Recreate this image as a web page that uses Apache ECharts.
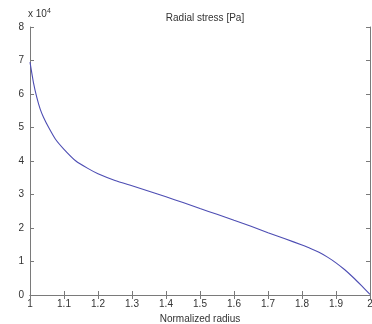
<!DOCTYPE html>
<html>
<head>
<meta charset="utf-8">
<script src="https://cdn.jsdelivr.net/npm/echarts@6/dist/echarts.min.js"></script>
<style>
  html, body { margin: 0; padding: 0; background: #fff; }
  #chart { width: 372px; height: 324px; }
</style>
</head>
<body>
<div id="chart"></div>
<script>
// normalized radius (x) and radial stress in Pa (y)
const radius = [
  1.0, 1.01, 1.02, 1.03, 1.04, 1.055, 1.075, 1.1, 1.135, 1.17, 1.2, 1.25,
  1.3, 1.35, 1.4, 1.45, 1.5, 1.55, 1.6, 1.65, 1.7, 1.75, 1.8, 1.825, 1.85,
  1.875, 1.9, 1.925, 1.95, 1.975, 2.0,
]
const stress = [
  69500, 63500, 59000, 55500, 53000, 50000, 46500, 43500, 40000, 37800, 36200, 34200,
  32600, 31000, 29300, 27600, 25800, 24100, 22300, 20500, 18600, 16800, 14900, 13900, 12750,
  11300, 9600, 7600, 5300, 2800, 200,
]
const titleText = 'Radial stress [Pa]'
const xName = 'Normalized radius'

var myChart = echarts.init(document.getElementById('chart'))

const axisGray = '#7a7a7a'
const textGray = '#333'
const font = 'Liberation Sans, Arial, sans-serif'

const boxAxis = {
  axisLine: { show: true, lineStyle: { color: axisGray, width: 1 } },
  axisTick: { show: true, inside: true, length: 4, lineStyle: { color: axisGray } },
  splitLine: { show: false },
}

const option = {
  backgroundColor: '#fff',
  animation: false,
  title: {
    text: titleText,
    left: 200,
    top: 8,
    textAlign: 'center',
    textStyle: { fontSize: 10, fontWeight: 'normal', color: textGray, fontFamily: font },
  },
  graphic: [
    {
      type: 'text',
      left: 28,
      top: 8,
      style: {
        text: 'x 10{sup|4}',
        fill: textGray,
        font: '10px ' + font,
        rich: { sup: { fontSize: 7, verticalAlign: 'top', padding: [0, 0, 6, 0], fill: textGray } },
      },
    },
  ],
  grid: { left: 30, right: 2, top: 27, bottom: 29, outerBoundsMode: 'none', containLabel: false },
  xAxis: [
    {
      ...boxAxis,
      type: 'value',
      min: 1,
      max: 2,
      interval: 0.1,
      name: xName,
      nameLocation: 'middle',
      nameGap: 16,
      nameTextStyle: { fontSize: 10, color: textGray, fontFamily: font },
      axisLabel: {
        fontSize: 10,
        color: textGray,
        fontFamily: font,
        margin: 4,
        formatter: (v) => String(+v.toFixed(1)),
      },
    },
    {
      ...boxAxis,
      type: 'value',
      position: 'top',
      min: 1,
      max: 2,
      interval: 0.1,
      axisLabel: { show: false },
    },
  ],
  yAxis: [
    {
      ...boxAxis,
      type: 'value',
      min: 0,
      max: 80000,
      interval: 10000,
      axisLabel: {
        fontSize: 10,
        color: textGray,
        fontFamily: font,
        margin: 6,
        formatter: (v) => String(v / 10000),
      },
    },
    {
      ...boxAxis,
      type: 'value',
      position: 'right',
      min: 0,
      max: 80000,
      interval: 10000,
      axisLabel: { show: false },
    },
  ],
  series: [
    {
      type: 'line',
      data: radius.map((r, i) => [r, stress[i]]),
      smooth: 0.2,
      symbol: 'none',
      lineStyle: { color: '#4d4db3', width: 1.1 },
    },
  ],
}

myChart.setOption(option)
</script>
</body>
</html>
